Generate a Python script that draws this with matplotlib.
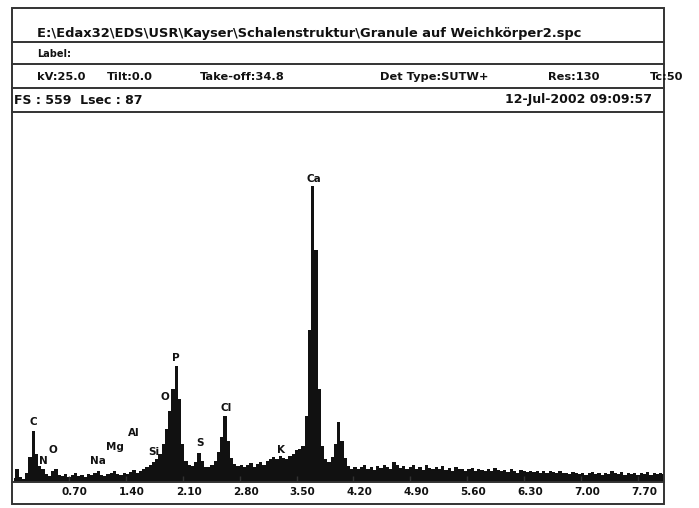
import numpy as np
import matplotlib.pyplot as plt
from matplotlib.lines import Line2D
from matplotlib.patches import Rectangle
from matplotlib.transforms import ScaledTranslation

W, H = 699, 508

# channel centres [keV], 0.04 keV per channel
energy = np.round(0.02 + 0.04 * np.arange(201), 2)

# counts per channel (10 channels = 0.4 keV per row)
counts = [
    6, 20, 8, 5, 14, 38, 77, 42, 24, 20,          # 0.02 - 0.38
    12, 9, 16, 20, 11, 9, 12, 8, 10, 13,          # 0.42 - 0.78
    9, 11, 8, 12, 10, 14, 17, 11, 9, 12,          # 0.82 - 1.18
    13, 17, 12, 11, 14, 12, 15, 18, 14, 17,       # 1.22 - 1.58
    19, 22, 26, 30, 34, 42, 58, 80, 108, 140,     # 1.62 - 1.98
    176, 125, 58, 32, 26, 24, 30, 44, 32, 22,     # 2.02 - 2.38
    23, 26, 32, 45, 68, 100, 62, 36, 27, 24,      # 2.42 - 2.78
    26, 22, 25, 28, 23, 27, 30, 26, 32, 35,       # 2.82 - 3.18
    38, 34, 40, 37, 35, 39, 42, 48, 50, 55,       # 3.22 - 3.58
    100, 230, 447, 350, 140, 55, 34, 30, 38, 58,  # 3.62 - 3.98
    90, 62, 36, 24, 20, 23, 19, 22, 25, 20,       # 4.02 - 4.38
    22, 18, 24, 21, 26, 23, 20, 30, 25, 21,       # 4.42 - 4.78
    24, 19, 22, 26, 20, 23, 18, 25, 21, 19,       # 4.82 - 5.18
    22, 20, 24, 18, 21, 17, 23, 19, 20, 16,       # 5.22 - 5.58
    19, 21, 17, 20, 18, 16, 19, 17, 21, 18,       # 5.62 - 5.98
    16, 18, 15, 19, 17, 14, 18, 16, 15, 17,       # 6.02 - 6.38
    15, 17, 14, 16, 13, 16, 15, 14, 17, 13,       # 6.42 - 6.78
    14, 12, 15, 13, 12, 14, 11, 13, 15, 12,       # 6.82 - 7.18
    13, 11, 14, 12, 16, 13, 12, 15, 11, 13,       # 7.22 - 7.58
    12, 14, 11, 13, 12, 15, 11, 14, 12, 13,       # 7.62 - 7.98
    12,                                           # 8.02
]

peak_names = ["C", "N", "O", "Na", "Mg", "Al", "Si", "O", "P", "S", "Cl", "K", "Ca"]
peak_keV = [0.26, 0.38, 0.50, 1.06, 1.27, 1.50, 1.75, 1.88, 2.02, 2.31, 2.63, 3.31, 3.71]
peak_label_counts = [91, 32, 48, 32, 53, 74, 45, 128, 187, 59, 112, 48, 458]

tick_keV = [0.70, 1.40, 2.10, 2.80, 3.50, 4.20, 4.90, 5.60, 6.30, 7.00, 7.70]
tick_labels = ["0.70", "1.40", "2.10", "2.80", "3.50", "4.20", "4.90", "5.60", "6.30", "7.00", "7.70"]

full_scale = 559
file_path = "E:\\Edax32\\EDS\\USR\\Kayser\\Schalenstruktur\\Granule auf Weichkörper2.spc"
acq_items = ["kV:25.0", "Tilt:0.0", "Take-off:34.8", "Det Type:SUTW+", "Res:130", "Tc:50"]
acq_x = [37, 107, 200, 380, 548, 650]
fs_text = "FS : 559  Lsec : 87"
date_text = "12-Jul-2002 09:09:57"

ink = "#111111"
font = dict(family="DejaVu Sans", weight="bold", color=ink)


def fx(px):
    return px / W


def fy(py):
    return 1 - py / H


fig = plt.figure(figsize=(W / 100, H / 100), dpi=100)

# spectrum panel
ax = fig.add_axes([fx(12), fy(482), fx(664) - fx(12), fy(112) - fy(482)])
ax.fill_between(energy, counts, step="mid", color=ink, lw=0)
ax.set_xlim(0, 8.02)
ax.set_ylim(0, full_scale)
for side in ["left", "right", "top"]:
    ax.spines[side].set_visible(False)
ax.spines["bottom"].set_linewidth(1.4)
ax.spines["bottom"].set_color("#333333")
ax.set_yticks([])
ax.set_xticks(tick_keV, tick_labels)
ax.tick_params(axis="x", direction="in", length=4, width=1, color="#333333", pad=3.5)
shift = ScaledTranslation(6 / 100, 0, fig.dpi_scale_trans)
for lab in ax.get_xticklabels():
    lab.set_fontsize(7.5)
    lab.set_fontweight("bold")
    lab.set_color(ink)
    lab.set_transform(lab.get_transform() + shift)

for name, e, c in zip(peak_names, peak_keV, peak_label_counts):
    ax.text(e, c, name, ha="center", va="center", fontsize=7.5, **font)

# frame and header rows
fig.add_artist(Rectangle((fx(12), fy(504)), fx(664) - fx(12), fy(8) - fy(504),
                         transform=fig.transFigure, fill=False, lw=1.4, ec="#333333"))
for row_y in [42, 64, 88, 112]:
    fig.add_artist(Line2D([fx(12), fx(664)], [fy(row_y), fy(row_y)],
                          transform=fig.transFigure, lw=1.4, color="#333333"))

fig.text(fx(37), fy(34), file_path, ha="left", va="center", fontsize=9.4, **font)
fig.text(fx(37), fy(54), "Label:", ha="left", va="center", fontsize=7, **font)
for item, x in zip(acq_items, acq_x):
    fig.text(fx(x), fy(77), item, ha="left", va="center", fontsize=8.2, **font)
fig.text(fx(14), fy(100), fs_text, ha="left", va="center", fontsize=9, **font)
fig.text(fx(652), fy(100), date_text, ha="right", va="center", fontsize=9, **font)

fig.savefig("out.png", dpi=100)
